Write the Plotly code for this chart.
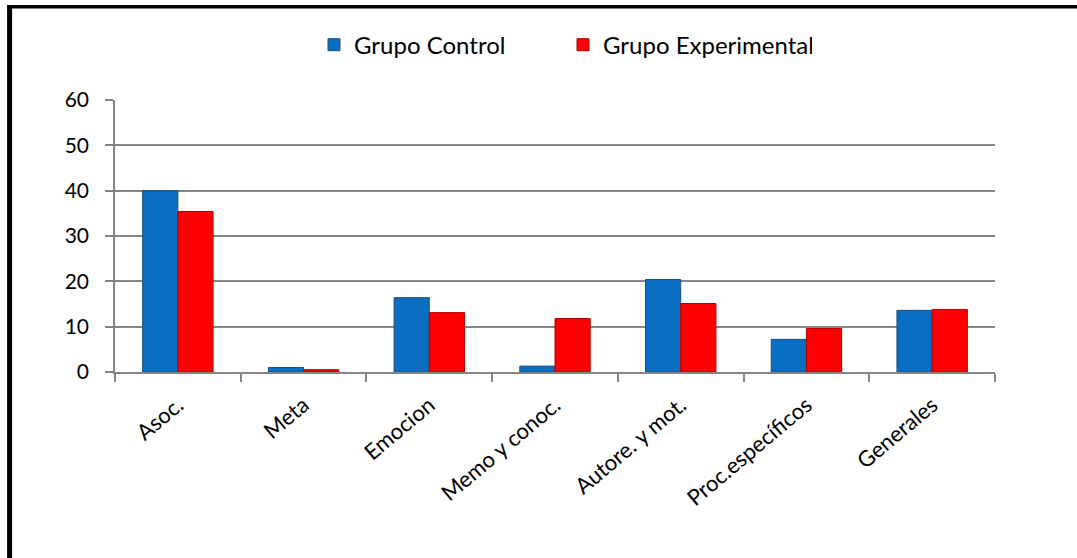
import plotly.graph_objects as go

# Categories and per-group values
categorias = ["Asoc.", "Meta", "Emocion", "Memo y conoc.", "Autore. y mot.",
              "Proc.específicos", "Generales"]
grupo_control = [40.0, 1.0, 16.4, 1.3, 20.4, 7.2, 13.6]
grupo_experimental = [35.4, 0.5, 13.1, 11.8, 15.1, 9.6, 13.8]
y_ticks = [0, 10, 20, 30, 40, 50, 60]

W, H = 1077, 558
L, R, T, B = 115, 82, 100, 185.5
plot_w = W - L - R
plot_h = H - T - B

FONT = "Lato"

fig = go.Figure()
fig.add_trace(go.Bar(
    name="Grupo Control", x=categorias, y=grupo_control,
    marker=dict(color="#0A6FC2", line=dict(color="#1F4E79", width=1)),
))
fig.add_trace(go.Bar(
    name="Grupo Experimental", x=categorias, y=grupo_experimental,
    marker=dict(color="#FF0000", line=dict(color="#B00000", width=1)),
))


def px_x(px):
    return (px - L) / plot_w


def px_y(py):
    return (H - B - py) / plot_h


# Thick black frame on the left and top edges
shapes = [
    dict(type="line", xref="paper", yref="paper",
         x0=px_x(7), x1=px_x(W + 5), y0=px_y(6.5), y1=px_y(6.5),
         line=dict(color="black", width=3.5)),
    dict(type="line", xref="paper", yref="paper",
         x0=px_x(9.6), x1=px_x(9.6), y0=px_y(5), y1=px_y(H + 5),
         line=dict(color="black", width=5)),
]

fig.update_layout(
    width=W, height=H,
    margin=dict(l=L, r=R, t=T, b=B),
    paper_bgcolor="white", plot_bgcolor="white",
    barmode="group", bargap=0.44, bargroupgap=0,
    font=dict(family=FONT, color="black"),
    showlegend=True,
    legend=dict(orientation="h", x=px_x(314), xanchor="left", y=px_y(45),
                yanchor="middle", font=dict(size=24, family=FONT),
                itemwidth=30, entrywidth=204, entrywidthmode="pixels",
                tracegroupgap=0),
    shapes=shapes,
    xaxis=dict(
        type="category", showgrid=False,
        showline=True, linecolor="#868686", linewidth=1.5,
        ticks="outside", tickson="boundaries", ticklen=8,
        tickcolor="#868686", tickwidth=1.5,
        tickangle=-40, ticklabelstandoff=10,
        tickfont=dict(size=22, family=FONT),
    ),
    yaxis=dict(
        range=[0, 60], tickvals=y_ticks, showgrid=True,
        gridcolor="#868686", gridwidth=1.5,
        showline=True, linecolor="#868686", linewidth=1.5,
        ticks="outside", ticklen=8, tickcolor="#868686", tickwidth=1.5,
        ticklabelstandoff=12, zeroline=False,
        tickfont=dict(size=21, family=FONT),
    ),
)

fig.write_html("out.html")
